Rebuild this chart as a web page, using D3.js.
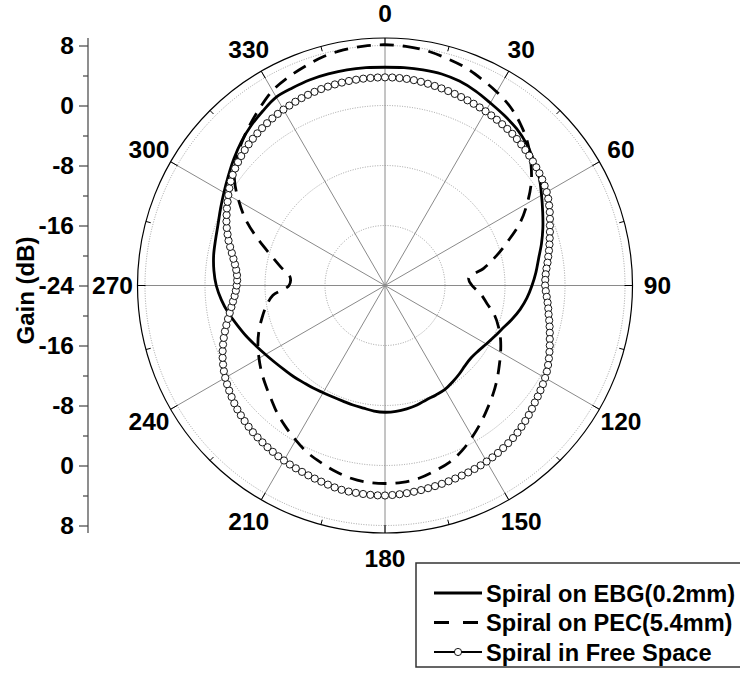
<!DOCTYPE html>
<html>
<head>
<meta charset="utf-8">
<script src="https://cdn.jsdelivr.net/npm/d3@7"></script>
<style>
  body { margin: 0; background: #fff; }
  text { font-family: "Liberation Sans", Arial, sans-serif; font-weight: bold; }
</style>
</head>
<body>
<div id="chart"></div>
<script>
// Radial tick labels / angle labels
const angleLabels = [0, 30, 60, 90, 120, 150, 180, 210, 240, 270, 300, 330];
const gainTicks = [8, 0, -8, -16, -24];
const gridLevels = [-16, -8, 0, 8];

// Spiral on EBG(0.2mm), every 5 deg
const ebgAngles = d3.range(0, 360, 5);
const ebgGain = [
  5.1, 5.15, 5.2, 5.2, 5.0, 4.6, 4.1, 3.7, 3.3, 2.7, 1.9, 1.1,
  0.1, -0.8, -1.6, -2.4, -3.2, -3.8, -4.4, -5.0, -5.7, -6.5, -7.3, -7.9,
  -8.4, -8.8, -9.0, -8.9, -8.6, -8.3, -8.0, -7.9, -7.8, -7.5, -7.3, -7.15,
  -7.1, -7.2, -7.4, -7.5, -7.6, -7.6, -7.5, -7.3, -7.1, -6.8, -6.5, -6.1,
  -5.6, -5.0, -4.3, -3.6, -2.8, -2.1, -1.5, -1.1, -0.8, -0.6, -0.3, 0.2,
  0.8, 1.5, 2.3, 3.1, 3.8, 4.4, 5.0, 5.1, 5.2, 5.2, 5.2, 5.15
];

// Spiral on PEC(5.4mm), every 5 deg
const pecAngles = d3.range(0, 360, 5);
const pecGain = [
  8.1, 8.0, 7.8, 7.4, 7.0, 6.4, 5.8, 5.1, 4.1, 2.9, 1.4, -0.2,
  -2.1, -4.1, -6.5, -8.6, -10.6, -12.8, -12.4, -11.2, -10.2, -8.9, -7.9, -7.0,
  -6.2, -5.4, -4.5, -3.6, -2.7, -1.7, -0.7, 0.3, 1.1, 1.6, 2.1, 2.35,
  2.4, 2.35, 2.1, 1.65, 1.1, 0.55, -0.2, -0.95, -1.7, -2.55, -3.25, -3.9,
  -4.6, -5.3, -6.1, -7.0, -7.9, -9.0, -11.2, -11.3, -9.9, -8.2, -6.0, -3.6,
  -1.5, 0.5, 1.9, 3.0, 4.0, 5.0, 6.0, 6.6, 7.1, 7.6, 7.9, 8.05
];

// Spiral in Free Space, every 2 deg
const freeAngles = d3.range(0, 360, 2);
const freeGain = [
  3.75, 3.75, 3.73, 3.70, 3.65, 3.58, 3.50, 3.42, 3.34, 3.26,
  3.18, 3.10, 3.03, 2.96, 2.89, 2.82, 2.74, 2.66, 2.58, 2.49,
  2.40, 2.28, 2.15, 2.02, 1.88, 1.74, 1.60, 1.45, 1.28, 1.10,
  0.90, 0.65, 0.35, 0.05, -0.28, -0.60, -0.88, -1.15, -1.40, -1.65,
  -1.90, -2.12, -2.35, -2.52, -2.62, -2.65, -2.55, -2.38, -2.20, -2.02,
  -1.85, -1.62, -1.38, -1.14, -0.90, -0.62, -0.35, -0.08, 0.19, 0.45,
  0.65, 0.83, 1.00, 1.18, 1.35, 1.58, 1.80, 2.00, 2.20, 2.40,
  2.55, 2.68, 2.80, 2.93, 3.02, 3.10, 3.16, 3.22, 3.28, 3.33,
  3.39, 3.45, 3.51, 3.57, 3.63, 3.70, 3.77, 3.84, 3.90, 3.95,
  4.00, 4.00, 3.98, 3.95, 3.92, 3.90, 3.85, 3.75, 3.62, 3.50,
  3.40, 3.30, 3.20, 3.12, 3.03, 2.94, 2.85, 2.75, 2.65, 2.54,
  2.43, 2.32, 2.18, 2.02, 1.86, 1.70, 1.50, 1.28, 1.06, 0.83,
  0.60, 0.33, 0.02, -0.30, -0.65, -1.02, -1.40, -1.80, -2.20, -2.60,
  -2.98, -3.32, -3.62, -3.90, -4.10, -4.22, -4.28, -4.22, -4.05, -3.80,
  -3.48, -3.12, -2.72, -2.30, -1.93, -1.55, -1.20, -0.88, -0.55, -0.23,
  0.12, 0.48, 0.82, 1.10, 1.35, 1.58, 1.80, 2.00, 2.17, 2.33,
  2.48, 2.62, 2.75, 2.87, 2.98, 3.08, 3.17, 3.26, 3.35, 3.42,
  3.48, 3.54, 3.59, 3.63, 3.66, 3.69, 3.71, 3.73, 3.74, 3.75
];

const width = 740, height = 673;
const cx = 385, cy = 285.5;
const rMin = -24, rMax = 9;
const outerR = 247.5;
const fontSize = 24.5;
const legendFont = 23.6;
const rad = d => d * Math.PI / 180;

const svg = d3.select("#chart").append("svg")
  .attr("width", width)
  .attr("height", height);

const r = d3.scaleLinear().domain([rMin, rMax]).range([0, outerR]);

const polar = svg.append("g").attr("transform", `translate(${cx},${cy})`);

// dotted grid circles
polar.selectAll(".grid")
  .data(gridLevels)
  .enter().append("circle")
  .attr("r", d => r(d))
  .attr("fill", "none")
  .attr("stroke", "#8a8a8a")
  .attr("stroke-width", 0.8)
  .attr("stroke-dasharray", "1,1.5");

// spokes
polar.selectAll(".spoke")
  .data(angleLabels)
  .enter().append("line")
  .attr("x1", 0).attr("y1", 0)
  .attr("x2", d => d3.pointRadial(rad(d), outerR)[0])
  .attr("y2", d => d3.pointRadial(rad(d), outerR)[1])
  .attr("stroke", "#8a8a8a")
  .attr("stroke-width", 1);

// outer circle
polar.append("circle")
  .attr("r", outerR)
  .attr("fill", "none")
  .attr("stroke", "#000")
  .attr("stroke-width", 1.2);

// angular ticks (major every 30, minor every 15)
const tickAngles = d3.range(0, 360, 15);
polar.selectAll(".atick")
  .data(tickAngles)
  .enter().append("line")
  .attr("x1", d => d3.pointRadial(rad(d), outerR)[0])
  .attr("y1", d => d3.pointRadial(rad(d), outerR)[1])
  .attr("x2", d => d3.pointRadial(rad(d), outerR - (d % 30 === 0 ? 8 : 5))[0])
  .attr("y2", d => d3.pointRadial(rad(d), outerR - (d % 30 === 0 ? 8 : 5))[1])
  .attr("stroke", "#000")
  .attr("stroke-width", 1);

// angle labels
polar.selectAll(".alabel")
  .data(angleLabels)
  .enter().append("text")
  .attr("x", d => d3.pointRadial(rad(d), outerR + 25)[0])
  .attr("y", d => d3.pointRadial(rad(d), outerR + 25)[1])
  .attr("text-anchor", "middle")
  .attr("dominant-baseline", "central")
  .attr("font-size", fontSize)
  .text(d => d);

// curves
const radial = d3.lineRadial()
  .angle(d => rad(d[0]))
  .radius(d => r(d[1]))
  .curve(d3.curveCatmullRomClosed.alpha(0.5));

const ebgData = ebgAngles.map((a, i) => [a, ebgGain[i]]);
const pecData = pecAngles.map((a, i) => [a, pecGain[i]]);
const freeData = freeAngles.map((a, i) => [a, freeGain[i]]);

polar.append("path")
  .attr("d", radial(ebgData))
  .attr("fill", "none")
  .attr("stroke", "#000")
  .attr("stroke-width", 2.8);

polar.append("path")
  .attr("d", radial(pecData))
  .attr("fill", "none")
  .attr("stroke", "#000")
  .attr("stroke-width", 2.8)
  .attr("stroke-dasharray", "14,9");

polar.append("path")
  .attr("d", radial(freeData))
  .attr("fill", "none")
  .attr("stroke", "#000")
  .attr("stroke-width", 1.5);

polar.selectAll(".fs")
  .data(freeData)
  .enter().append("circle")
  .attr("cx", d => d3.pointRadial(rad(d[0]), r(d[1]))[0])
  .attr("cy", d => d3.pointRadial(rad(d[0]), r(d[1]))[1])
  .attr("r", 3.6)
  .attr("fill", "#fff")
  .attr("stroke", "#000")
  .attr("stroke-width", 0.9);

// left gain axis (mirrored about the centre)
const axisX = 88;
const yTop = d3.scaleLinear().domain([rMin, rMax]).range([cy, cy - outerR]);
const yBot = d3.scaleLinear().domain([rMin, rMax]).range([cy, cy + outerR]);
const minorTicks = [4, -4, -12, -20];

svg.append("line")
  .attr("x1", axisX).attr("x2", axisX)
  .attr("y1", cy - outerR).attr("y2", cy + outerR)
  .attr("stroke", "#444")
  .attr("stroke-width", 1.2);

[yTop, yBot].forEach((sc, k) => {
  const g = svg.append("g").attr("transform", `translate(${axisX},0)`);
  g.call(d3.axisLeft(sc)
      .tickValues(k === 0 ? gainTicks : gainTicks.filter(t => t !== -24))
      .tickSize(9).tickPadding(5).tickFormat(d => String(d)));
  g.select(".domain").remove();
  g.selectAll("line").attr("stroke", "#444").attr("stroke-width", 1.2);
  g.selectAll("text")
    .attr("font-size", fontSize)
    .attr("font-family", "'Liberation Sans', Arial, sans-serif")
    .attr("font-weight", "bold")
    .attr("fill", "#000");

  const m = svg.append("g").attr("transform", `translate(${axisX},0)`);
  m.call(d3.axisLeft(sc).tickValues(minorTicks).tickSize(5).tickFormat(""));
  m.select(".domain").remove();
  m.selectAll("line").attr("stroke", "#444").attr("stroke-width", 1.2);
});

svg.append("text")
  .attr("transform", `translate(34,${cy + 5}) rotate(-90)`)
  .attr("text-anchor", "middle")
  .attr("font-size", 24)
  .text("Gain (dB)");

// legend
const legend = svg.append("g");
legend.append("rect")
  .attr("x", 416).attr("y", 563)
  .attr("width", 340).attr("height", 104)
  .attr("fill", "#fff")
  .attr("stroke", "#333")
  .attr("stroke-width", 1.5);

const legendNames = ["Spiral on EBG(0.2mm)", "Spiral on PEC(5.4mm)", "Spiral in Free Space"];
const legendY = [593, 622.5, 652];

legendNames.forEach((name, i) => {
  const y = legendY[i];
  const ln = legend.append("line")
    .attr("x1", 434).attr("x2", 482)
    .attr("y1", y).attr("y2", y)
    .attr("stroke", "#000")
    .attr("stroke-width", 2.8);
  if (i === 1) ln.attr("stroke-dasharray", "15,14");
  if (i === 2) {
    ln.attr("stroke-width", 2.2);
    legend.append("circle")
      .attr("cx", 458).attr("cy", y).attr("r", 3.6)
      .attr("fill", "#fff").attr("stroke", "#000").attr("stroke-width", 0.9);
  }
  legend.append("text")
    .attr("x", 486).attr("y", y + 8.5)
    .attr("font-size", legendFont)
    .text(name);
});
</script>
</body>
</html>
